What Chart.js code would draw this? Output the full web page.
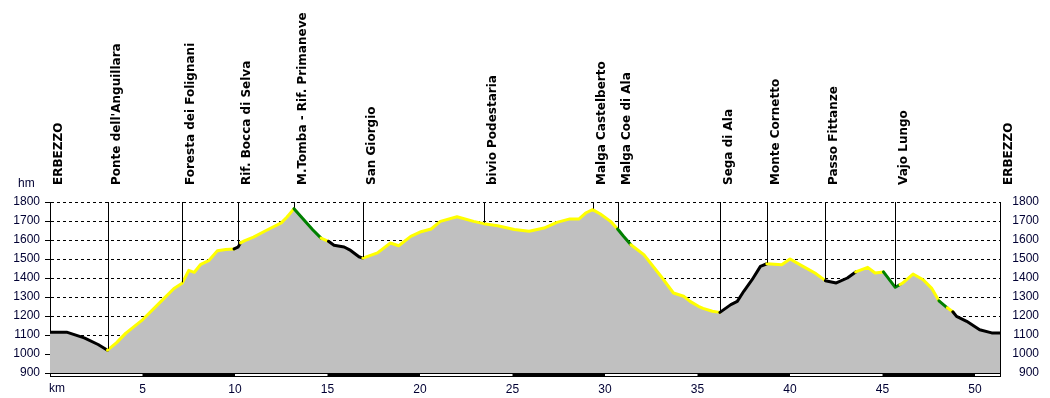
<!DOCTYPE html>
<html>
<head>
<meta charset="utf-8">
<script src="https://cdn.jsdelivr.net/npm/chart.js@4"></script>
<style>
    body { margin: 0; background: #fff; }
    canvas { display: block; }
</style>
</head>
<body>
<canvas id="profileChart" width="1050" height="398"></canvas>
<script>
// distance along the route (km) and altitude (m)
const kmPoints = [
    0.0, 0.9, 1.85, 2.6, 3.11, 3.6, 4.1, 5.0, 6.0, 6.7, 7.14, 7.5, 7.8, 8.15, 8.6, 9.05, 9.5, 9.95,
    10.16, 10.3, 10.5, 11.0, 11.6, 12.5, 12.8, 13.19, 13.55, 14.2, 14.65, 15.05, 15.35, 15.9, 16.25,
    16.7, 16.91, 17.7, 18.4, 18.85, 19.5, 20.0, 20.6, 21.1, 22.0, 22.9, 23.45, 24.2, 25.1, 25.9,
    26.7, 27.4, 28.1, 28.6, 28.95, 29.33, 29.75, 30.3, 30.68, 31.0, 31.4, 32.1, 33.0, 33.7, 34.25,
    34.6, 35.05, 35.3, 35.8, 36.21, 36.8, 37.15, 37.5, 37.95, 38.4, 38.75, 39.55, 40.0, 40.7,
    41.35, 41.91, 42.5, 43.1, 43.55, 44.2, 44.6, 45.05, 45.69, 45.95, 46.1, 46.65, 47.2, 47.65,
    48.05, 48.5, 48.8, 49.0, 49.55, 50.25, 50.9, 51.35
];
const altitude = [
    1115, 1115, 1085, 1050, 1020, 1060, 1110, 1180, 1277, 1345, 1372, 1440, 1430, 1472, 1493, 1544, 1550, 1553,
    1562, 1585, 1595, 1615, 1646, 1690, 1720, 1765, 1725, 1654, 1610, 1593, 1572, 1563, 1545,
    1512, 1505, 1532, 1584, 1570, 1619, 1642, 1658, 1698, 1722, 1698, 1686, 1675, 1655, 1646,
    1663, 1693, 1711, 1711, 1742, 1760, 1737, 1698, 1658, 1620, 1575, 1523, 1412, 1321, 1304,
    1277, 1251, 1240, 1225, 1219, 1260, 1277, 1330, 1391, 1461, 1475, 1470, 1500, 1461,
    1426, 1386, 1374, 1400, 1432, 1456, 1426, 1432, 1351, 1366, 1374, 1421, 1391, 1347,
    1280, 1243, 1222, 1198, 1172, 1128, 1111, 1111
];

// colour of the track from each km onwards
const trackFrom = [0, 3.11, 9.95, 10.3, 13.19, 14.65, 15.05, 16.91, 30.68, 31.4, 36.21, 38.75, 41.91, 43.55, 45.05, 45.95, 48.05, 48.5, 48.8];
const trackColor = ['#000000', '#ffff00', '#000000', '#ffff00', '#008000', '#ffff00', '#000000', '#ffff00', '#008000', '#ffff00',
    '#000000', '#ffff00', '#000000', '#ffff00', '#008000', '#ffff00', '#008000', '#ffff00', '#000000'];

// waypoints
const waypointNames = ['ERBEZZO', "Ponte dell'Anguillara", 'Foresta dei Folignani', 'Rif. Bocca di Selva', 'M.Tomba - Rif. Primaneve',
    'San Giorgio', 'bivio Podestaria', 'Malga Castelberto', 'Malga Coe di Ala', 'Sega di Ala', 'Monte Cornetto',
    'Passo Fittanze', 'Vajo Lungo', 'ERBEZZO'];
const waypointKm = [0, 3.14, 7.14, 10.16, 13.19, 16.91, 23.45, 29.33, 30.68, 36.21, 38.75, 41.91, 45.69, 51.35];

const kmMax = 51.35;
const altMin = 900;
const altMax = 1800;
const tickFont = { family: 'Liberation Sans, Arial, sans-serif', size: 12 };
const tickColor = '#000033';

function colorAt(x) {
    let c = trackColor[0];
    trackFrom.forEach((start, i) => { if (x >= start) c = trackColor[i]; });
    return c;
}

function altitudeAt(x) {
    for (let i = 1; i < kmPoints.length; i++) {
        if (x <= kmPoints[i]) {
            const t = (x - kmPoints[i - 1]) / (kmPoints[i] - kmPoints[i - 1]);
            return altitude[i - 1] + t * (altitude[i] - altitude[i - 1]);
        }
    }
    return altitude[altitude.length - 1];
}

const profileExtras = {
    id: 'profileExtras',
    afterDraw(chart) {
        const ctx = chart.ctx;
        const xs = chart.scales.x;
        const ys = chart.scales.y;
        const area = chart.chartArea;

        // waypoint markers and names
        ctx.save();
        ctx.strokeStyle = '#000';
        ctx.lineWidth = 1;
        waypointKm.forEach((km, i) => {
            const px = Math.round(xs.getPixelForValue(km)) + 0.5;
            if (i > 0 && i < waypointKm.length - 1) {
                ctx.beginPath();
                ctx.moveTo(px, ys.getPixelForValue(altMax));
                ctx.lineTo(px, ys.getPixelForValue(altitudeAt(km)) - 1);
                ctx.stroke();
            }
            ctx.save();
            ctx.translate(px + 11, 185);
            ctx.rotate(-Math.PI / 2);
            ctx.fillStyle = '#000';
            ctx.font = 'bold 12px "DejaVu Sans", Verdana, sans-serif';
            ctx.textAlign = 'left';
            ctx.textBaseline = 'alphabetic';
            ctx.fillText(waypointNames[i], 0, 0);
            ctx.restore();
        });

        // distance bar under the plot, 5 km blocks
        const top = area.bottom;
        for (let k = 0; k < kmMax; k += 5) {
            const x1 = xs.getPixelForValue(k);
            const x2 = xs.getPixelForValue(Math.min(k + 5, kmMax));
            ctx.fillStyle = (k / 5) % 2 ? '#000' : '#fff';
            ctx.fillRect(x1, top, x2 - x1, 4);
        }
        ctx.strokeStyle = '#000';
        ctx.strokeRect(area.left + 0.5, top + 0.5, area.right - area.left, 3);

        // unit labels
        ctx.fillStyle = tickColor;
        ctx.font = '12px "Liberation Sans", Arial, sans-serif';
        ctx.textAlign = 'left';
        ctx.textBaseline = 'middle';
        ctx.fillText('hm', 18, 184);
        ctx.fillText('km', 49, 389);
        ctx.restore();
    }
};

const profilePoints = kmPoints.map((km, i) => ({ x: km, y: altitude[i] }));

new Chart(document.getElementById('profileChart'), {
    type: 'line',
    data: {
        datasets: [{
            // coloured track on top
            data: profilePoints,
            borderColor: '#000',
            borderWidth: 3,
            borderJoinStyle: 'round',
            borderCapStyle: 'round',
            fill: false,
            pointRadius: 0,
            tension: 0,
            order: 0,
            segment: {
                borderColor: c => colorAt(c.p0.parsed.x)
            }
        }, {
            // grey terrain underneath
            data: profilePoints,
            borderWidth: 0,
            borderColor: 'rgba(0,0,0,0)',
            backgroundColor: '#c0c0c0',
            fill: 'start',
            pointRadius: 0,
            tension: 0,
            order: 1
        }]
    },
    options: {
        responsive: false,
        animation: false,
        layout: { padding: { top: 202, right: 11, left: 0, bottom: 0 } },
        plugins: {
            legend: { display: false },
            tooltip: { enabled: false }
        },
        scales: {
            x: {
                type: 'linear',
                min: 0,
                max: kmMax,
                afterFit: s => { s.height = 25; },
                grid: { display: false, drawTicks: false },
                border: { display: false },
                ticks: {
                    stepSize: 5,
                    includeBounds: false,
                    autoSkip: false,
                    maxRotation: 0,
                    padding: 9,
                    color: tickColor,
                    font: tickFont,
                    callback: v => (v > 0 && v % 5 === 0) ? String(v) : ''
                }
            },
            y: {
                position: 'left',
                min: altMin,
                max: altMax,
                afterFit: s => { s.width = 50; },
                grid: {
                    color: c => c.tick && c.tick.value === altMin ? 'rgba(0,0,0,0)' : '#000',
                    tickColor: '#000',
                    drawTicks: true,
                    tickLength: 5,
                    lineWidth: 1
                },
                border: { display: true, color: '#000', width: 1, dash: [3, 3] },
                ticks: { stepSize: 100, padding: 5, color: tickColor, font: tickFont, callback: v => String(v) }
            },
            y2: {
                position: 'right',
                min: altMin,
                max: altMax,
                afterFit: s => { s.width = 39; },
                grid: { display: false, drawTicks: false },
                border: { display: true, color: '#000', width: 1 },
                ticks: { stepSize: 100, padding: 0, crossAlign: 'far', color: tickColor, font: tickFont, callback: v => String(v) }
            }
        }
    },
    plugins: [profileExtras]
});
</script>
</body>
</html>
